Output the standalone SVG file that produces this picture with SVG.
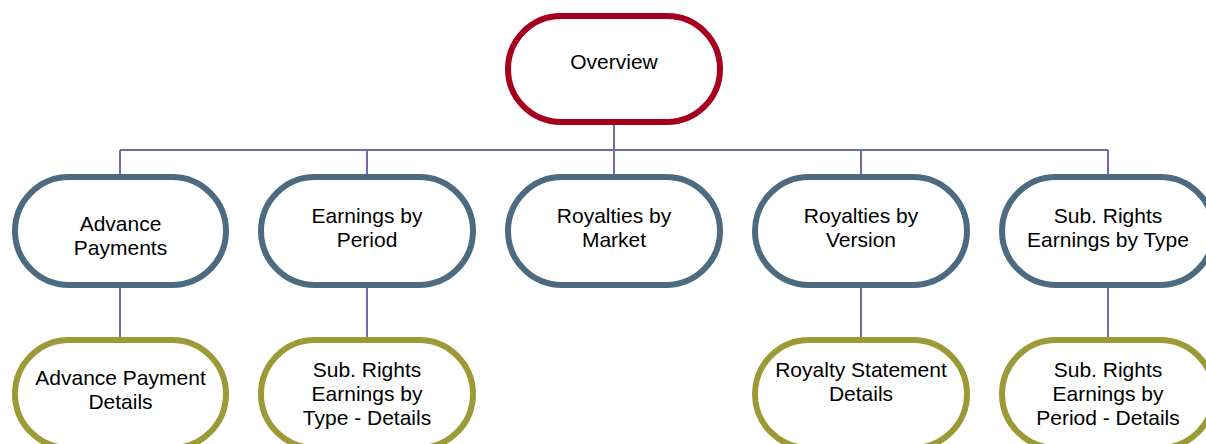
<svg xmlns="http://www.w3.org/2000/svg" width="1206" height="444" viewBox="0 0 1206 444">
<style>
.box{fill:#fff;stroke-width:6}
.top{stroke:#A6001F}
.mid{stroke:#4C6B80}
.low{stroke:#9B9A36}
.conn{fill:none;stroke:#6E6EA6;stroke-width:2}
text{font-family:"Liberation Sans",Arial,sans-serif;font-size:21px;fill:#000;text-anchor:middle}
</style>
<g id="connectors">
<path class="conn" d="M614 125V150M120 150H1108M120 150V174M367 150V174M614 150V174M861 150V174M1108 150V174"/>
<path class="conn" d="M120 288V337M367 288V337M861 288V337M1108 288V337"/>
</g>
<g id="overview"><rect class="box top" x="508" y="16" width="212" height="106" rx="53"/><text x="614" y="69">Overview</text></g>
<g id="advance-payments"><rect class="box mid" x="15" y="177" width="211" height="108" rx="54"/><text x="120.5" y="231">Advance</text><text x="120.5" y="255">Payments</text></g>
<g id="earnings-by-period"><rect class="box mid" x="261" y="177" width="212" height="108" rx="54"/><text x="367" y="223">Earnings by</text><text x="367" y="247">Period</text></g>
<g id="royalties-by-market"><rect class="box mid" x="508" y="177" width="212" height="108" rx="54"/><text x="614" y="223">Royalties by</text><text x="614" y="247">Market</text></g>
<g id="royalties-by-version"><rect class="box mid" x="755" y="177" width="212" height="108" rx="54"/><text x="861" y="223">Royalties by</text><text x="861" y="247">Version</text></g>
<g id="sub-rights-by-type"><rect class="box mid" x="1002" y="177" width="212" height="108" rx="54"/><text x="1108" y="223">Sub. Rights</text><text x="1108" y="247">Earnings by Type</text></g>
<g id="advance-payment-details"><rect class="box low" x="15" y="340" width="211" height="108" rx="54"/><text x="120.5" y="385">Advance Payment</text><text x="120.5" y="409">Details</text></g>
<g id="sub-rights-type-details"><rect class="box low" x="261" y="340" width="212" height="108" rx="54"/><text x="367" y="377">Sub. Rights</text><text x="367" y="401">Earnings by</text><text x="367" y="425">Type - Details</text></g>
<g id="royalty-statement-details"><rect class="box low" x="755" y="340" width="212" height="108" rx="54"/><text x="861" y="377">Royalty Statement</text><text x="861" y="401">Details</text></g>
<g id="sub-rights-period-details"><rect class="box low" x="1002" y="340" width="212" height="108" rx="54"/><text x="1108" y="377">Sub. Rights</text><text x="1108" y="401">Earnings by</text><text x="1108" y="425">Period - Details</text></g>
</svg>
